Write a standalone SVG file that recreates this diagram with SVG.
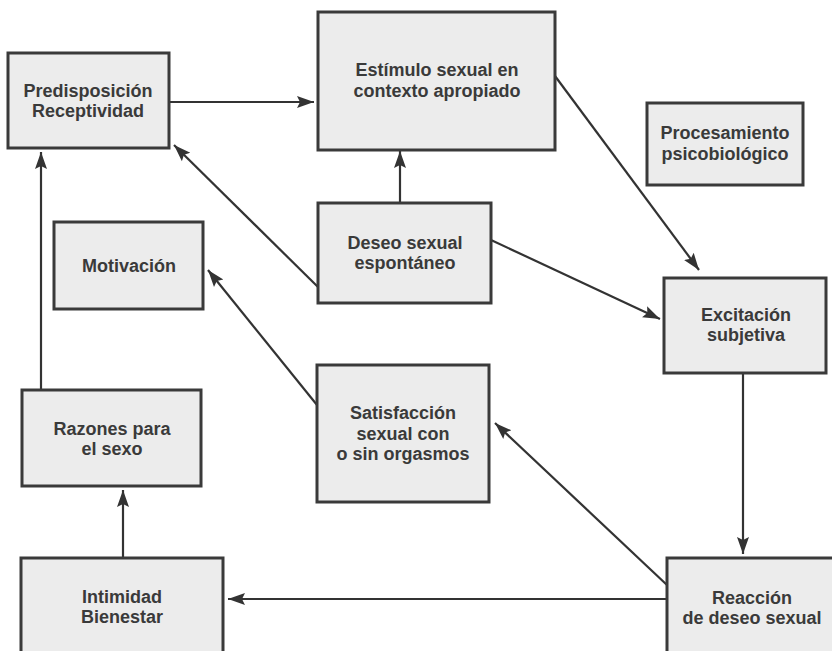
<svg xmlns="http://www.w3.org/2000/svg" width="832" height="651" viewBox="0 0 832 651">
  <defs>
    <marker id="arr" markerUnits="userSpaceOnUse" markerWidth="18" markerHeight="14" refX="17" refY="7" orient="auto">
      <path d="M0,1 L17,7 L0,13 L3,7 z" fill="#333"/>
    </marker>
    <style>
      .box { fill: #ececec; stroke: #3a3a3a; stroke-width: 3; }
      .lbl { font-family: "Liberation Sans", Arial, sans-serif; font-weight: bold; font-size: 18px; fill: #3a3a3a; text-anchor: middle; }
      .con { stroke: #333; stroke-width: 2.2; fill: none; marker-end: url(#arr); }
    </style>
  </defs>
  <rect width="832" height="651" fill="#ffffff"/>

  <g id="connectors">
    <line class="con" x1="170" y1="102" x2="314" y2="102"/>
    <line class="con" x1="400" y1="203" x2="400" y2="151"/>
    <line class="con" x1="318" y1="287" x2="174" y2="145"/>
    <line class="con" x1="555" y1="76" x2="699" y2="270"/>
    <line class="con" x1="491" y1="240" x2="660" y2="319"/>
    <line class="con" x1="317" y1="405" x2="208" y2="270"/>
    <line class="con" x1="41" y1="390" x2="41" y2="152"/>
    <line class="con" x1="743" y1="373" x2="743" y2="554"/>
    <line class="con" x1="667" y1="585" x2="495" y2="423"/>
    <line class="con" x1="667" y1="599" x2="228" y2="599"/>
    <line class="con" x1="123" y1="558" x2="123" y2="490"/>
  </g>

  <g id="predisposicion">
    <rect class="box" x="8" y="53" width="161" height="95"/>
    <text class="lbl" x="88" y="97">Predisposición</text>
    <text class="lbl" x="88" y="117">Receptividad</text>
  </g>
  <g id="estimulo">
    <rect class="box" x="318" y="12" width="237" height="138"/>
    <text class="lbl" x="437" y="76">Estímulo sexual en</text>
    <text class="lbl" x="437" y="97">contexto apropiado</text>
  </g>
  <g id="procesamiento">
    <rect class="box" x="647" y="103" width="156" height="82"/>
    <text class="lbl" x="725" y="139">Procesamiento</text>
    <text class="lbl" x="725" y="160">psicobiológico</text>
  </g>
  <g id="motivacion">
    <rect class="box" x="54" y="222" width="149" height="87"/>
    <text class="lbl" x="129" y="272">Motivación</text>
  </g>
  <g id="deseo">
    <rect class="box" x="318" y="203" width="173" height="100"/>
    <text class="lbl" x="405" y="249">Deseo sexual</text>
    <text class="lbl" x="405" y="269">espontáneo</text>
  </g>
  <g id="excitacion">
    <rect class="box" x="664" y="278" width="162" height="95"/>
    <text class="lbl" x="746" y="321">Excitación</text>
    <text class="lbl" x="746" y="341">subjetiva</text>
  </g>
  <g id="satisfaccion">
    <rect class="box" x="317" y="365" width="172" height="137"/>
    <text class="lbl" x="403" y="419">Satisfacción</text>
    <text class="lbl" x="403" y="440">sexual con</text>
    <text class="lbl" x="403" y="460">o sin orgasmos</text>
  </g>
  <g id="razones">
    <rect class="box" x="22" y="390" width="179" height="96"/>
    <text class="lbl" x="112" y="435">Razones para</text>
    <text class="lbl" x="112" y="455">el sexo</text>
  </g>
  <g id="intimidad">
    <rect class="box" x="21" y="558" width="202" height="110"/>
    <text class="lbl" x="122" y="603">Intimidad</text>
    <text class="lbl" x="122" y="623">Bienestar</text>
  </g>
  <g id="reaccion">
    <rect class="box" x="667" y="558" width="180" height="110"/>
    <text class="lbl" x="752" y="604">Reacción</text>
    <text class="lbl" x="752" y="624">de deseo sexual</text>
  </g>
</svg>
